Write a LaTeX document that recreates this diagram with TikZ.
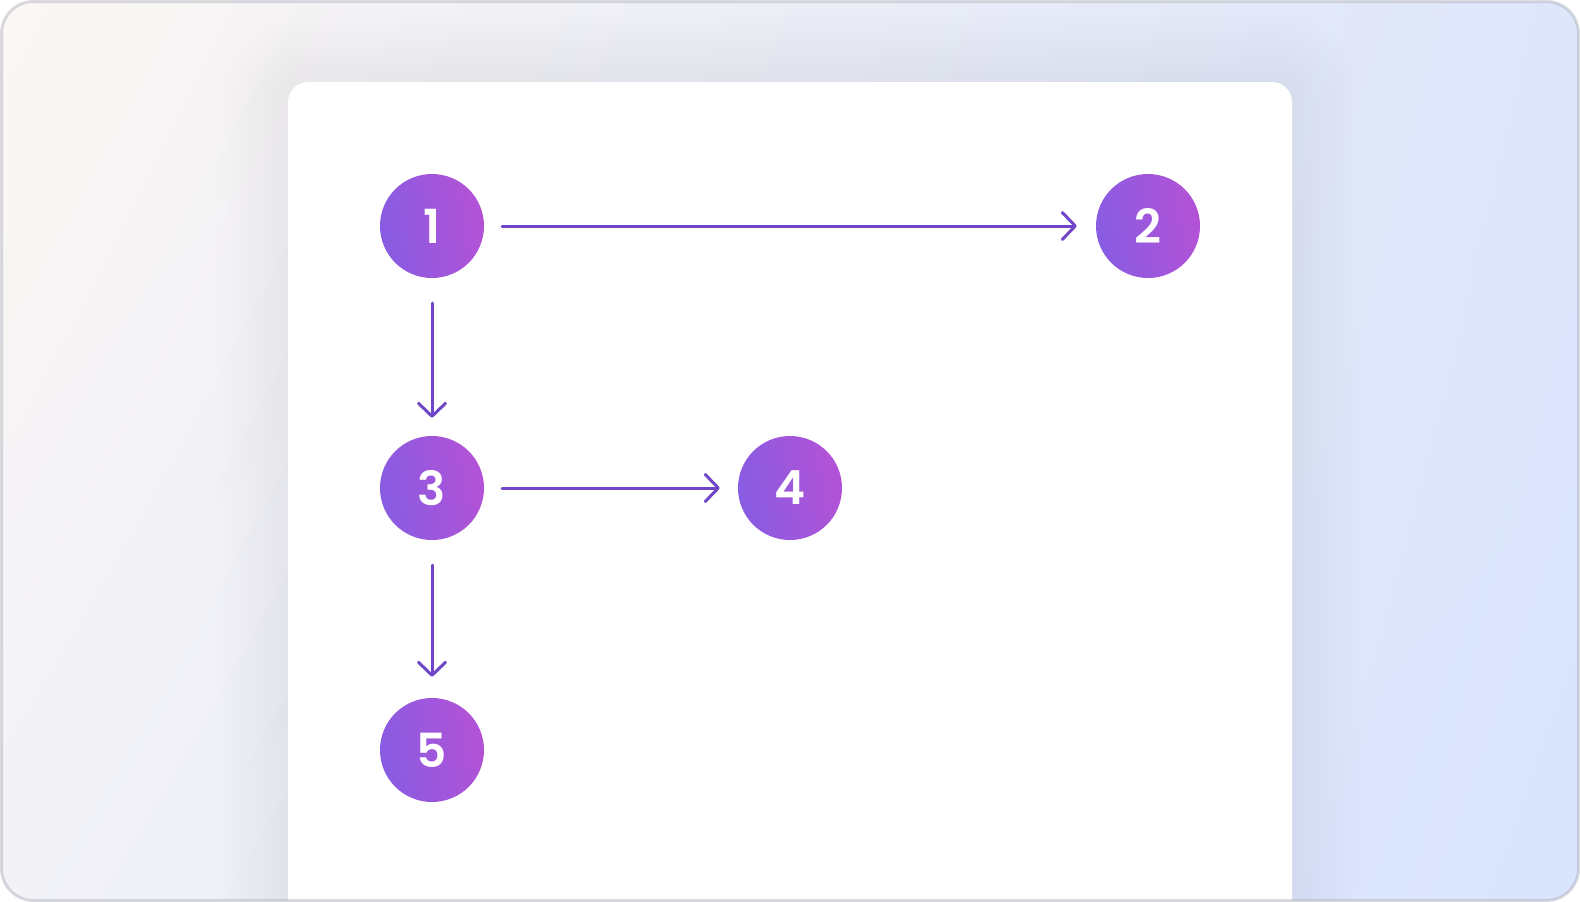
\documentclass[tikz,border=0pt]{standalone}
\usepackage{fontspec}
\setmainfont{Poppins}[BoldFont={Poppins SemiBold}]
\usetikzlibrary{arrows.meta,shadings}

\definecolor{bgTL}{RGB}{251,247,244}
\definecolor{bgTR}{RGB}{222,230,250}
\definecolor{bgBL}{RGB}{242,242,247}
\definecolor{bgBR}{RGB}{217,228,253}
\definecolor{stepL}{RGB}{136,92,226}
\definecolor{stepR}{RGB}{180,82,214}
\definecolor{link}{RGB}{112,70,200}
\definecolor{frameline}{RGB}{150,152,165}
\definecolor{haze}{RGB}{180,186,205}

\tikzset{
  stepnode/.style={circle, minimum size=104pt, inner sep=0pt,
    left color=stepL, right color=stepR, shading angle=100,
    text=white, font=\fontsize{47}{47}\selectfont\bfseries},
  link/.style={draw=link, line width=3pt, line cap=round, line join=round,
    -{Straight Barb[length=13pt, width=27pt, line cap=round, line join=round]}},
}

\begin{document}
\begin{tikzpicture}[x=1pt, y=-1pt]
\useasboundingbox (0,0) rectangle (1580,902);

% backdrop and card, clipped to the rounded frame
\begin{scope}
  \clip[rounded corners=32pt] (1.5,1.5) rectangle (1578.5,900.5);
  \shade[upper left=bgTL, upper right=bgTR, lower left=bgBL, lower right=bgBR]
    (0,0) rectangle (1580,902);
  % soft halo around the card, built from thin translucent layers
  \foreach \g in {1,...,12}{
    \fill[haze, fill opacity=0.01, rounded corners={20pt+6pt*\g}]
      (288-6*\g,82-6*\g) rectangle (1292+6*\g,960);
  }
  \fill[white, rounded corners=20pt] (288,82) rectangle (1292,960);
\end{scope}
\draw[frameline, draw opacity=0.35, line width=3pt, rounded corners=32pt]
  (1.5,1.5) rectangle (1578.5,900.5);

% steps
\node[stepnode] (n1) at (432,226) {1};
\node[stepnode] (n2) at (1148,226) {2};
\node[stepnode] (n3) at (432,488) {3};
\node[stepnode] (n4) at (790,488) {4};
\node[stepnode] (n5) at (432,750) {5};

% connectors
\draw[link] ([xshift=18pt]n1.east) -- ([xshift=-19pt]n2.west);
\draw[link] ([yshift=-25pt]n1.south) -- ([yshift=18pt]n3.north);
\draw[link] ([xshift=18pt]n3.east) -- ([xshift=-18pt]n4.west);
\draw[link] ([yshift=-25pt]n3.south) -- ([yshift=21pt]n5.north);
\end{tikzpicture}
\end{document}
